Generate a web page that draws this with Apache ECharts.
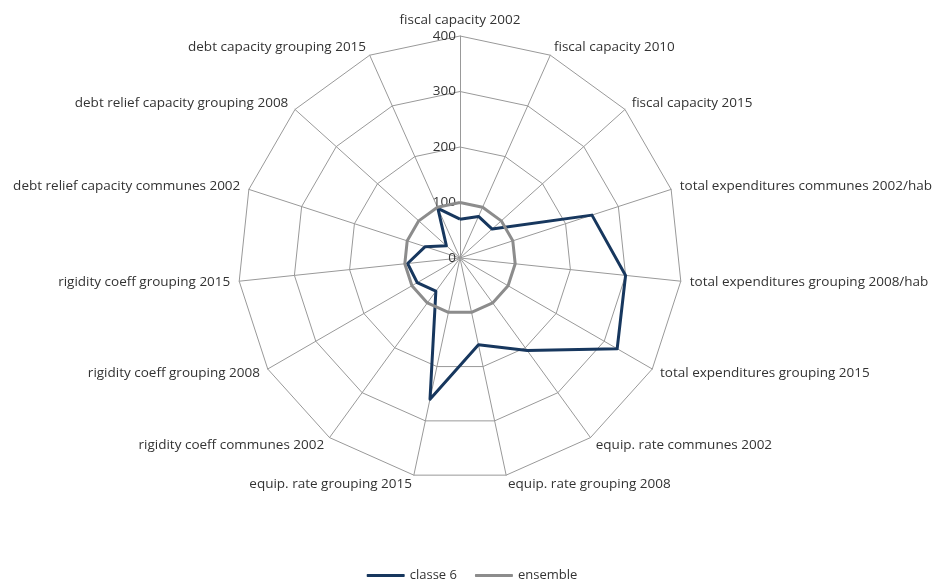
<!DOCTYPE html>
<html>
<head>
<meta charset="utf-8">
<script src="https://cdn.jsdelivr.net/npm/echarts@6/dist/echarts.min.js"></script>
<style>
  html, body { margin: 0; padding: 0; background: #fff; }
  #radarChart { width: 944px; height: 585px; }
</style>
</head>
<body>
<div id="radarChart"></div>
<script>
// axis names, clockwise from the top
var indicators = [
  'fiscal capacity 2002',
  'fiscal capacity 2010',
  'fiscal capacity 2015',
  'total expenditures communes 2002/hab',
  'total expenditures grouping 2008/hab',
  'total expenditures grouping 2015',
  'equip. rate communes 2002',
  'equip. rate grouping 2008',
  'equip. rate grouping 2015',
  'rigidity coeff communes 2002',
  'rigidity coeff grouping 2008',
  'rigidity coeff grouping 2015',
  'debt relief capacity communes 2002',
  'debt relief capacity grouping 2008',
  'debt capacity grouping 2015'
];
var classe6 = [70, 82, 78, 250, 300, 327, 206, 160, 260, 74, 89, 95, 66, 33, 98];
var ensemble = [100, 100, 100, 100, 100, 100, 100, 100, 100, 100, 100, 100, 100, 100, 100];
var seriesNames = ['classe 6', 'ensemble'];
var axisMax = 400;

var chart = echarts.init(document.getElementById('radarChart'));

// echarts lays radar axes out counter-clockwise, so keep the first one and flip the rest
function clockwise(arr) {
  return [arr[0]].concat(arr.slice(1).reverse());
}

var indicatorList = clockwise(indicators).map(function (n, i) {
  var o = { name: n, min: 0, max: axisMax };
  if (i === 0) {
    // tick labels only on the top axis
    o.axisLabel = { show: true };
  }
  return o;
});

chart.setOption({
  animation: false,
  textStyle: { fontFamily: 'Open Sans' },
  legend: {
    data: seriesNames,
    bottom: -2,
    left: 'center',
    itemWidth: 38,
    itemHeight: 3,
    itemGap: 18,
    textStyle: { color: '#333', fontSize: 13, fontFamily: 'Open Sans' }
  },
  radar: {
    center: [460, 258],
    radius: 222,
    startAngle: 90,
    splitNumber: 4,
    shape: 'polygon',
    indicator: indicatorList,
    axisName: { color: '#333', fontSize: 13.5, fontFamily: 'Open Sans' },
    nameGap: 9,
    axisLine: { lineStyle: { color: '#999', width: 1 } },
    splitLine: { lineStyle: { color: '#999', width: 1 } },
    splitArea: { show: false },
    axisTick: { show: false },
    axisLabel: { show: false, color: '#333', fontSize: 13.5, fontFamily: 'Open Sans', margin: 4 }
  },
  series: [{
    type: 'radar',
    symbol: 'none',
    data: [
      { name: seriesNames[0], value: clockwise(classe6),
        lineStyle: { color: '#17375e', width: 3 }, itemStyle: { color: '#17375e' } },
      { name: seriesNames[1], value: clockwise(ensemble),
        lineStyle: { color: '#8c8c8c', width: 3 }, itemStyle: { color: '#8c8c8c' } }
    ]
  }]
});
</script>
</body>
</html>
